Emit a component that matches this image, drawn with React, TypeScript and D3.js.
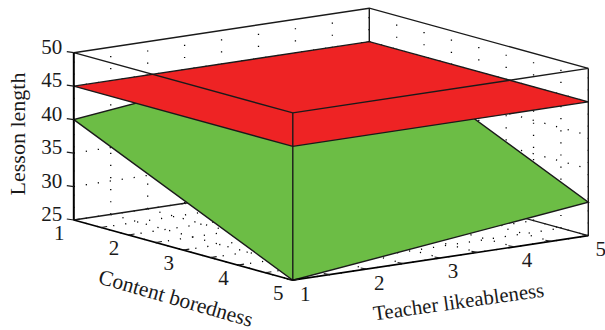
import React from 'react';
import * as d3 from 'd3';

const contentTicks = [1, 2, 3, 4, 5];
const teacherTicks = [1, 2, 3, 4, 5];
const lengthTicks = [25, 30, 35, 40, 45, 50];
const gridSteps = [1, 1.5, 2, 2.5, 3, 3.5, 4, 4.5, 5];

// lesson length at the corners [content, teacher, length]
const greenSurface = [
  [1, 1, 40],
  [5, 1, 25],
  [5, 5, 30],
  [1, 5, 45],
];
const redSurface = [
  [1, 1, 45],
  [5, 1, 45],
  [5, 5, 45],
  [1, 5, 45],
];

const width = 605;
const height = 330;
const origin = { x: 73.8, y: 220 };

// oblique projection: each data axis adds its own pixel offset
const contentDx = d3.scaleLinear().domain([1, 5]).range([0, 219]);
const contentDy = d3.scaleLinear().domain([1, 5]).range([0, 60.2]);
const teacherDx = d3.scaleLinear().domain([1, 5]).range([0, 295.5]);
const teacherDy = d3.scaleLinear().domain([1, 5]).range([0, -44.5]);
const lengthDy = d3.scaleLinear().domain([25, 50]).range([0, -167.3]);

const project = (c: number, t: number, z: number): [number, number] => [
  origin.x + contentDx(c) + teacherDx(t),
  origin.y + contentDy(c) + teacherDy(t) + lengthDy(z),
];

const line = d3.line();
const path = (pts: [number, number][]) => line(pts) as string;
const polygon = (rows: number[][]) =>
  (line(rows.map(r => project(r[0], r[1], r[2]))) as string) + 'Z';

const serif = '"Liberation Serif", serif';
const ink = '#1a1a1a';

const App = () => {
  const dotted: string[] = [];
  // left wall, right wall and floor grids
  gridSteps.forEach(s => {
    dotted.push(path([project(1, s, 25), project(1, s, 50)]));
    dotted.push(path([project(s, 5, 25), project(s, 5, 50)]));
    dotted.push(path([project(s, 1, 25), project(s, 5, 25)]));
    dotted.push(path([project(1, s, 25), project(5, s, 25)]));
  });
  lengthTicks.slice(1, -1).forEach(z => {
    dotted.push(path([project(1, 1, z), project(1, 5, z)]));
    dotted.push(path([project(1, 5, z), project(5, 5, z)]));
  });

  const backEdges = [
    path([project(1, 1, 25), project(1, 5, 25), project(5, 5, 25)]),
    path([project(1, 1, 50), project(1, 5, 50), project(5, 5, 50)]),
    path([project(1, 5, 25), project(1, 5, 50)]),
    path([project(5, 5, 25), project(5, 5, 50)]),
  ];
  const frontEdges = [
    path([project(1, 1, 50), project(5, 1, 50), project(5, 5, 50)]),
    path([project(5, 1, 25), project(5, 1, 50)]),
  ];

  return (
    <svg width={width} height={height} style={{ position: 'absolute', left: 0, top: 0 }}>
      <rect width={width} height={height} fill="#fff" />
      {dotted.map((d, i) => (
        <path key={i} d={d} fill="none" stroke="#000" strokeWidth={1.3} strokeDasharray="1.2 10.9" />
      ))}
      {backEdges.map((d, i) => (
        <path key={i} d={d} fill="none" stroke={ink} strokeWidth={1.4} />
      ))}
      <path d={polygon(greenSurface)} fill="#6cbd45" stroke={ink} strokeWidth={1.4} />
      <path d={polygon(redSurface)} fill="#ee2324" stroke={ink} strokeWidth={1.4} />
      {frontEdges.map((d, i) => (
        <path key={i} d={d} fill="none" stroke={ink} strokeWidth={1.4} />
      ))}

      {/* axes */}
      <path d={path([project(1, 1, 25), project(1, 1, 50)])} stroke="#000" strokeWidth={2} fill="none" />
      <path
        d={path([project(1, 1, 25), project(5, 1, 25), project(5, 5, 25)])}
        stroke="#000"
        strokeWidth={1.7}
        fill="none"
      />
      {lengthTicks.map(z => {
        const [x, y] = project(1, 1, z);
        return (
          <g key={z}>
            <line x1={x - 7} x2={x} y1={y - 1} y2={y} stroke={ink} strokeWidth={1.2} />
            <text x={x - 11.5} y={y + 1} textAnchor="end" fontFamily={serif} fontSize={21} fill={ink}>
              {z}
            </text>
          </g>
        );
      })}
      {gridSteps.map(s => {
        const [cx, cy] = project(s, 1, 25);
        const [tx, ty] = project(5, s, 25);
        return (
          <g key={s} stroke={ink} strokeWidth={1.1} fill="none">
            <path d={path([[cx, cy], [cx + 6, cy - 1]])} />
            <path d={path([[tx, ty], [tx - 6, ty - 1]])} />
          </g>
        );
      })}
      {contentTicks.map(c => {
        const [x, y] = project(c, 1, 25);
        return (
          <text key={c} x={x - 14.5} y={y + 19.5} textAnchor="middle" fontFamily={serif} fontSize={21} fill={ink}>
            {c}
          </text>
        );
      })}
      {teacherTicks.map(t => {
        const [x, y] = project(5, t, 25);
        return (
          <text key={t} x={x + 12.5} y={y + 20.5} textAnchor="middle" fontFamily={serif} fontSize={21} fill={ink}>
            {t}
          </text>
        );
      })}

      <text
        transform="translate(25,134) rotate(-90)"
        textAnchor="middle"
        fontFamily={serif}
        fontSize={22}
        fill={ink}
      >
        Lesson length
      </text>
      <text
        transform="translate(174,305) rotate(16)"
        textAnchor="middle"
        fontFamily={serif}
        fontSize={21.5}
        fill={ink}
      >
        Content boredness
      </text>
      <text
        transform="translate(459.5,308.5) rotate(-8)"
        textAnchor="middle"
        fontFamily={serif}
        fontSize={20.8}
        fill={ink}
      >
        Teacher likeableness
      </text>
    </svg>
  );
};

export default App;
